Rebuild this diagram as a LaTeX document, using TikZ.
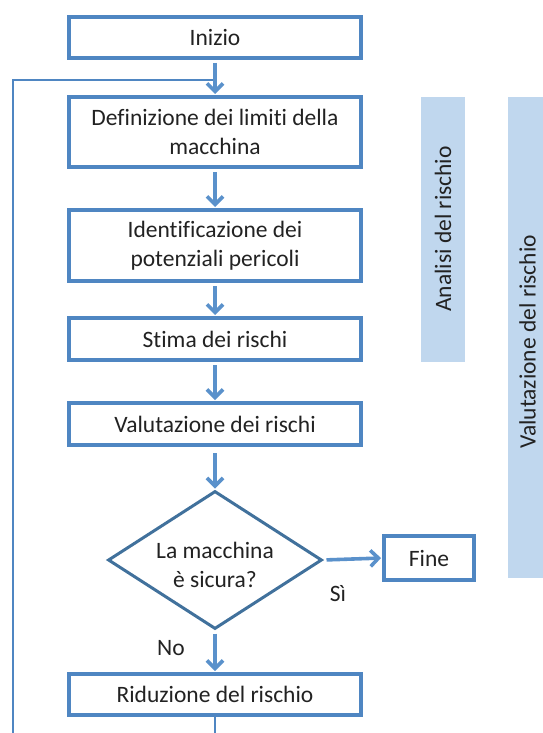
\documentclass[tikz,border=0pt]{standalone}
\usepackage{fontspec}
\setmainfont{Carlito}[Ligatures={NoCommon}]
\usetikzlibrary{arrows.meta,shapes.geometric}
\definecolor{boxblue}{HTML}{4F86C2}
\definecolor{diablue}{HTML}{41719C}
\definecolor{arrblue}{HTML}{5A91CB}
\definecolor{barblue}{HTML}{C0D7EE}
\definecolor{txt}{HTML}{222222}
\begin{document}
\begin{tikzpicture}[x=1pt,y=-1pt,
  every node/.style={text=txt, font=\fontsize{23.5}{28.5}\selectfont},
  stepbox/.style={draw=boxblue, line width=4pt, fill=white, inner sep=0pt, align=center, minimum width=292pt},
  decision/.style={diamond, draw=diablue, line width=3pt, fill=white, inner sep=0pt, align=center, minimum width=214pt, minimum height=138pt},
  flow/.style={draw=arrblue, line width=3.6pt, -{Straight Barb[length=8pt,width=16pt]}, shorten <=3pt, shorten >=1pt},
  loopline/.style={draw=boxblue, line width=1.6pt},
  bar/.style={fill=barblue, draw=none}
]
\useasboundingbox (0,0) rectangle (542,733);
% side bars
\fill[bar] (421,97) rectangle (465,362);
\fill[bar] (508,97) rectangle (552,578);
\node[rotate=90, inner sep=0pt] (analisi) at (443,229) {Analisi del rischio};
\node[rotate=90, inner sep=0pt] (valut) at (527.5,342) {Valutazione del rischio};

% boxes
\node[stepbox, minimum height=41pt] (inizio) at (215,37.5) {Inizio};
\node[stepbox, minimum height=70pt] (def) at (215,132) {Definizione dei limiti della\\macchina};
\node[stepbox, minimum height=71pt] (ident) at (215,245.5) {Identificazione dei\\potenziali pericoli};
\node[stepbox, minimum height=42pt] (stima) at (215,339) {Stima dei rischi};
\node[stepbox, minimum height=42pt] (valr) at (215,424) {Valutazione dei rischi};
\node[decision] (sicura) at (215,560) {};
\node (sicuratxt) at (215,565) [align=center] {La macchina\\è sicura?};
\node[stepbox, minimum width=90pt, minimum height=44pt] (fine) at (429,558) {Fine};
\node[stepbox, minimum height=41pt] (ridu) at (215,694.5) {Riduzione del rischio};

% labels
\node (si) at (338,594) {Sì};
\node (no) at (171,648) {No};

% loop
\coordinate (lb) at (215,733);
\coordinate (lbl) at (13,733);
\coordinate (ltl) at (13,80);
\coordinate (ltr) at (215,80);
\draw[loopline] (ridu.south) -- (lb);
\draw[loopline] (lbl) -- (ltl) -- (ltr);

% arrows
\draw[flow] (inizio.south) -- (def.north);
\draw[flow] (def.south) -- (ident.north);
\draw[flow] (ident.south) -- (stima.north);
\draw[flow] (stima.south) -- (valr.north);
\draw[flow, shorten <=6pt] (valr.south) -- (sicura.north);
\draw[flow] (sicura.south) -- (ridu.north);
\draw[flow] (sicura.east) -- (fine.west);
\end{tikzpicture}
\end{document}
